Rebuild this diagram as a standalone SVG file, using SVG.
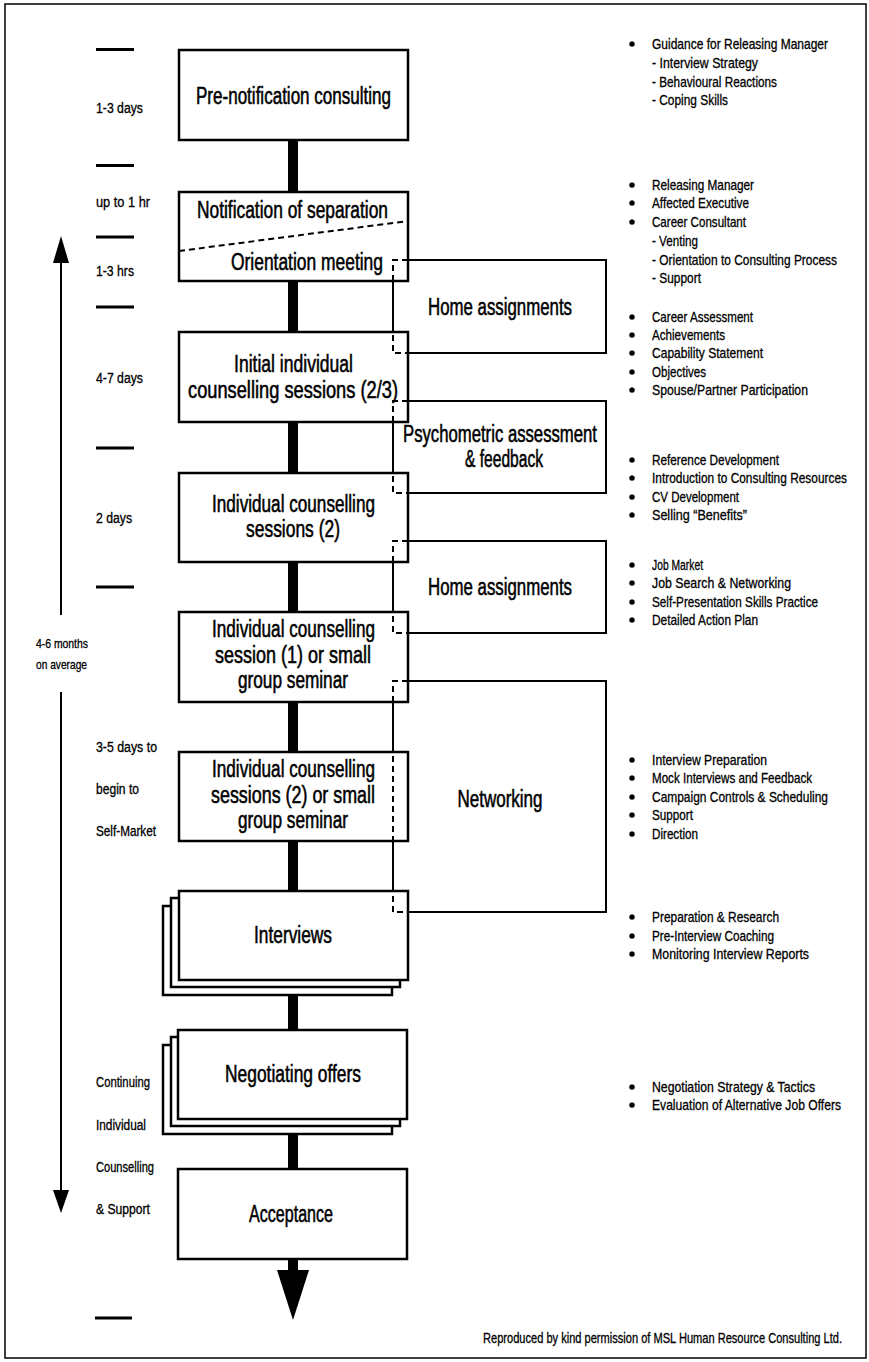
<svg xmlns="http://www.w3.org/2000/svg" width="869" height="1362" viewBox="0 0 869 1362">
<defs>
<style>
.frame{fill:none;stroke:#000;stroke-width:1.5}
.box{fill:#fff;stroke:#000;stroke-width:2.5}
.side{fill:none;stroke:#000;stroke-width:2}
.dash{fill:none;stroke:#000;stroke-width:2;stroke-dasharray:6 4}
.bar{fill:#000}
.tick{stroke:#000;stroke-width:3}
.t{font-family:"Liberation Sans",Arial,sans-serif;fill:#000;stroke:#000;stroke-width:0.3}
.bx{font-size:23px;text-anchor:middle;stroke-width:0.55}
.lb{font-size:14px}
.ls{font-size:13px}
.bl{font-size:14.5px}
</style>
</defs>
<rect class="frame" x="5" y="4" width="861" height="1354"/>

<g id="timeline">
<line class="tick" x1="96" y1="49.5" x2="134" y2="49.5"/>
<line class="tick" x1="96" y1="165.5" x2="134" y2="165.5"/>
<line class="tick" x1="96" y1="237" x2="134" y2="237"/>
<line class="tick" x1="96" y1="307" x2="134" y2="307"/>
<line class="tick" x1="96" y1="448" x2="134" y2="448"/>
<line class="tick" x1="96" y1="587" x2="134" y2="587"/>
<line class="tick" x1="95" y1="1318" x2="132" y2="1318"/>
<text class="t lb" x="96" y="113" textLength="47" lengthAdjust="spacingAndGlyphs">1-3 days</text>
<text class="t lb" x="96" y="207" textLength="54" lengthAdjust="spacingAndGlyphs">up to 1 hr</text>
<text class="t lb" x="96" y="276" textLength="38" lengthAdjust="spacingAndGlyphs">1-3 hrs</text>
<text class="t lb" x="96" y="383" textLength="47" lengthAdjust="spacingAndGlyphs">4-7 days</text>
<text class="t lb" x="96" y="523" textLength="36" lengthAdjust="spacingAndGlyphs">2 days</text>
<text class="t ls" x="36" y="648" textLength="52" lengthAdjust="spacingAndGlyphs">4-6 months</text>
<text class="t ls" x="36" y="669" textLength="51" lengthAdjust="spacingAndGlyphs">on average</text>
<text class="t lb" x="96" y="752" textLength="61" lengthAdjust="spacingAndGlyphs">3-5 days to</text>
<text class="t lb" x="96" y="794" textLength="43" lengthAdjust="spacingAndGlyphs">begin to</text>
<text class="t lb" x="96" y="836" textLength="60" lengthAdjust="spacingAndGlyphs">Self-Market</text>
<text class="t lb" x="96" y="1087" textLength="54" lengthAdjust="spacingAndGlyphs">Continuing</text>
<text class="t lb" x="96" y="1130" textLength="50" lengthAdjust="spacingAndGlyphs">Individual</text>
<text class="t lb" x="96" y="1172" textLength="58" lengthAdjust="spacingAndGlyphs">Counselling</text>
<text class="t lb" x="96" y="1214" textLength="54" lengthAdjust="spacingAndGlyphs">&amp; Support</text>
<line x1="61" y1="260" x2="61" y2="615" stroke="#000" stroke-width="2"/>
<line x1="61" y1="692" x2="61" y2="1192" stroke="#000" stroke-width="2"/>
<polygon points="61,236 69,263 53,263" fill="#000"/>
<polygon points="61,1213 69,1190 53,1190" fill="#000"/>
</g>

<g id="notes">
<g class="t bl">
<circle cx="632" cy="44" r="2.6"/><text x="652" y="49" textLength="176" lengthAdjust="spacingAndGlyphs">Guidance for Releasing Manager</text>
<text x="652" y="68" textLength="106" lengthAdjust="spacingAndGlyphs">- Interview Strategy</text>
<text x="652" y="87" textLength="125" lengthAdjust="spacingAndGlyphs">- Behavioural Reactions</text>
<text x="652" y="105" textLength="76" lengthAdjust="spacingAndGlyphs">- Coping Skills</text>

<circle cx="632" cy="185" r="2.6"/><text x="652" y="190" textLength="102" lengthAdjust="spacingAndGlyphs">Releasing Manager</text>
<circle cx="632" cy="203" r="2.6"/><text x="652" y="208" textLength="97" lengthAdjust="spacingAndGlyphs">Affected Executive</text>
<circle cx="632" cy="222" r="2.6"/><text x="652" y="227" textLength="94" lengthAdjust="spacingAndGlyphs">Career Consultant</text>
<text x="652" y="246" textLength="46" lengthAdjust="spacingAndGlyphs">- Venting</text>
<text x="652" y="265" textLength="185" lengthAdjust="spacingAndGlyphs">- Orientation to Consulting Process</text>
<text x="652" y="283" textLength="49" lengthAdjust="spacingAndGlyphs">- Support</text>

<circle cx="632" cy="317" r="2.6"/><text x="652" y="322" textLength="101" lengthAdjust="spacingAndGlyphs">Career Assessment</text>
<circle cx="632" cy="335" r="2.6"/><text x="652" y="340" textLength="73" lengthAdjust="spacingAndGlyphs">Achievements</text>
<circle cx="632" cy="353" r="2.6"/><text x="652" y="358" textLength="111" lengthAdjust="spacingAndGlyphs">Capability Statement</text>
<circle cx="632" cy="372" r="2.6"/><text x="652" y="377" textLength="54" lengthAdjust="spacingAndGlyphs">Objectives</text>
<circle cx="632" cy="390" r="2.6"/><text x="652" y="395" textLength="156" lengthAdjust="spacingAndGlyphs">Spouse/Partner Participation</text>

<circle cx="632" cy="460" r="2.6"/><text x="652" y="465" textLength="127" lengthAdjust="spacingAndGlyphs">Reference Development</text>
<circle cx="632" cy="478" r="2.6"/><text x="652" y="483" textLength="195" lengthAdjust="spacingAndGlyphs">Introduction to Consulting Resources</text>
<circle cx="632" cy="497" r="2.6"/><text x="652" y="502" textLength="87" lengthAdjust="spacingAndGlyphs">CV Development</text>
<circle cx="632" cy="515" r="2.6"/><text x="652" y="520" textLength="95" lengthAdjust="spacingAndGlyphs">Selling “Benefits”</text>

<circle cx="632" cy="565" r="2.6"/><text x="652" y="570" textLength="51" lengthAdjust="spacingAndGlyphs">Job Market</text>
<circle cx="632" cy="583" r="2.6"/><text x="652" y="588" textLength="139" lengthAdjust="spacingAndGlyphs">Job Search &amp; Networking</text>
<circle cx="632" cy="602" r="2.6"/><text x="652" y="607" textLength="166" lengthAdjust="spacingAndGlyphs">Self-Presentation Skills Practice</text>
<circle cx="632" cy="620" r="2.6"/><text x="652" y="625" textLength="106" lengthAdjust="spacingAndGlyphs">Detailed Action Plan</text>

<circle cx="632" cy="760" r="2.6"/><text x="652" y="765" textLength="115" lengthAdjust="spacingAndGlyphs">Interview Preparation</text>
<circle cx="632" cy="778" r="2.6"/><text x="652" y="783" textLength="160" lengthAdjust="spacingAndGlyphs">Mock Interviews and Feedback</text>
<circle cx="632" cy="797" r="2.6"/><text x="652" y="802" textLength="176" lengthAdjust="spacingAndGlyphs">Campaign Controls &amp; Scheduling</text>
<circle cx="632" cy="815" r="2.6"/><text x="652" y="820" textLength="41" lengthAdjust="spacingAndGlyphs">Support</text>
<circle cx="632" cy="834" r="2.6"/><text x="652" y="839" textLength="46" lengthAdjust="spacingAndGlyphs">Direction</text>

<circle cx="632" cy="917" r="2.6"/><text x="652" y="922" textLength="127" lengthAdjust="spacingAndGlyphs">Preparation &amp; Research</text>
<circle cx="632" cy="936" r="2.6"/><text x="652" y="941" textLength="122" lengthAdjust="spacingAndGlyphs">Pre-Interview Coaching</text>
<circle cx="632" cy="954" r="2.6"/><text x="652" y="959" textLength="157" lengthAdjust="spacingAndGlyphs">Monitoring Interview Reports</text>

<circle cx="632" cy="1087" r="2.6"/><text x="652" y="1092" textLength="163" lengthAdjust="spacingAndGlyphs">Negotiation Strategy &amp; Tactics</text>
<circle cx="632" cy="1105" r="2.6"/><text x="652" y="1110" textLength="189" lengthAdjust="spacingAndGlyphs">Evaluation of Alternative Job Offers</text>
</g>
<text class="t bl" x="842" y="1343" text-anchor="end" textLength="359" lengthAdjust="spacingAndGlyphs">Reproduced by kind permission of MSL Human Resource Consulting Ltd.</text>
</g>

<g id="connectors">
<rect class="bar" x="288" y="139" width="10" height="54"/>
<rect class="bar" x="288" y="280" width="10" height="53"/>
<rect class="bar" x="288" y="421" width="10" height="53"/>
<rect class="bar" x="288" y="561" width="10" height="52"/>
<rect class="bar" x="288" y="701" width="10" height="52"/>
<rect class="bar" x="288" y="840" width="10" height="52"/>
<rect class="bar" x="288" y="994" width="10" height="37"/>
<rect class="bar" x="288" y="1133" width="10" height="37"/>
<rect class="bar" x="288" y="1258" width="10" height="14"/>
<polygon points="277,1270 309,1270 293,1320" fill="#000"/>
</g>

<g id="home1">
<path class="side" d="M393,260 H606 V353 H393 Z"/>
<text class="t bx" x="500" y="315" textLength="144" lengthAdjust="spacingAndGlyphs">Home assignments</text>
</g>
<g id="psych">
<path class="side" d="M393,401 H606 V493 H393 Z"/>
<text class="t bx" x="500" y="442" textLength="194" lengthAdjust="spacingAndGlyphs">Psychometric assessment</text>
<text class="t bx" x="504" y="467" textLength="78" lengthAdjust="spacingAndGlyphs">&amp; feedback</text>
</g>
<g id="home2">
<path class="side" d="M393,541 H606 V633 H393 Z"/>
<text class="t bx" x="500" y="595" textLength="144" lengthAdjust="spacingAndGlyphs">Home assignments</text>
</g>
<g id="networking">
<path class="side" d="M393,681 H606 V912 H393 Z"/>
<text class="t bx" x="500" y="807" textLength="85" lengthAdjust="spacingAndGlyphs">Networking</text>
</g>

<g id="prenotification">
<rect class="box" x="179" y="50" width="229" height="90"/>
<text class="t bx" x="293.5" y="104" textLength="195" lengthAdjust="spacingAndGlyphs">Pre-notification consulting</text>
</g>
<g id="notification">
<rect class="box" x="179" y="192" width="229" height="89"/>
<line class="dash" x1="179" y1="251" x2="408" y2="221"/>
<text class="t bx" x="292.5" y="218" textLength="191" lengthAdjust="spacingAndGlyphs">Notification of separation</text>
<text class="t bx" x="307" y="270" textLength="152" lengthAdjust="spacingAndGlyphs">Orientation meeting</text>
</g>
<g id="initial">
<rect class="box" x="179" y="332" width="229" height="90"/>
<text class="t bx" x="293.5" y="372" textLength="119" lengthAdjust="spacingAndGlyphs">Initial individual</text>
<text class="t bx" x="293" y="398" textLength="210" lengthAdjust="spacingAndGlyphs">counselling sessions (2/3)</text>
</g>
<g id="sessions2">
<rect class="box" x="179" y="473" width="229" height="89"/>
<text class="t bx" x="293.5" y="512" textLength="163" lengthAdjust="spacingAndGlyphs">Individual counselling</text>
<text class="t bx" x="293" y="537" textLength="94" lengthAdjust="spacingAndGlyphs">sessions (2)</text>
</g>
<g id="session1">
<rect class="box" x="179" y="612" width="229" height="90"/>
<text class="t bx" x="293.5" y="637" textLength="163" lengthAdjust="spacingAndGlyphs">Individual counselling</text>
<text class="t bx" x="293" y="663" textLength="156" lengthAdjust="spacingAndGlyphs">session (1) or small</text>
<text class="t bx" x="293" y="688" textLength="110" lengthAdjust="spacingAndGlyphs">group seminar</text>
</g>
<g id="sessions2b">
<rect class="box" x="179" y="752" width="229" height="89"/>
<text class="t bx" x="293.5" y="777" textLength="163" lengthAdjust="spacingAndGlyphs">Individual counselling</text>
<text class="t bx" x="293" y="803" textLength="164" lengthAdjust="spacingAndGlyphs">sessions (2) or small</text>
<text class="t bx" x="293" y="828" textLength="110" lengthAdjust="spacingAndGlyphs">group seminar</text>
</g>
<g id="interviews">
<rect class="box" x="163" y="906" width="229" height="89"/>
<rect class="box" x="171" y="898" width="229" height="89"/>
<rect class="box" x="179" y="891" width="229" height="89"/>
<text class="t bx" x="293" y="943" textLength="78" lengthAdjust="spacingAndGlyphs">Interviews</text>
</g>
<g id="negotiating">
<rect class="box" x="163" y="1045" width="229" height="89"/>
<rect class="box" x="171" y="1037" width="229" height="89"/>
<rect class="box" x="178" y="1030" width="229" height="89"/>
<text class="t bx" x="293" y="1082" textLength="136" lengthAdjust="spacingAndGlyphs">Negotiating offers</text>
</g>
<g id="acceptance">
<rect class="box" x="178" y="1169" width="229" height="90"/>
<text class="t bx" x="291" y="1222" textLength="84" lengthAdjust="spacingAndGlyphs">Acceptance</text>
</g>

<g id="hidden-edges">
<path class="dash" d="M408,260 H393 V353 H408"/>
<path class="dash" d="M408,401 H393 V493 H408"/>
<path class="dash" d="M408,541 H393 V633 H408"/>
<path class="dash" d="M408,681 H393 V912 H408"/>
</g>
</svg>
